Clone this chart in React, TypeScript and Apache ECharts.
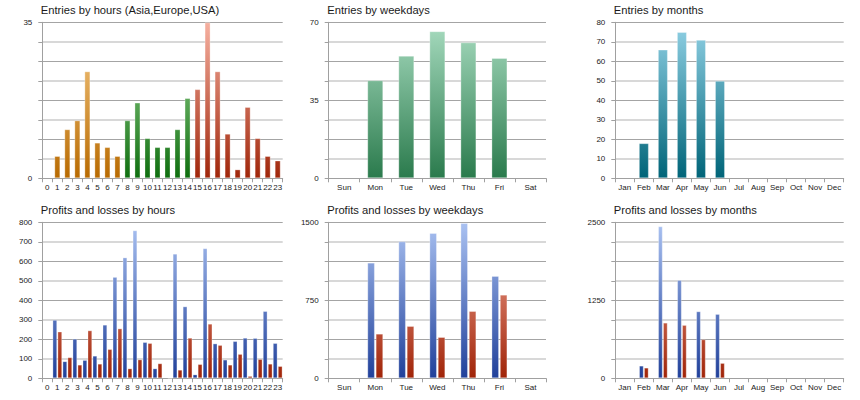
import { useEffect, useRef } from 'react';
import * as echarts from 'echarts';

const hours = ['0', '1', '2', '3', '4', '5', '6', '7', '8', '9', '10', '11', '12', '13', '14', '15', '16', '17', '18', '19', '20', '21', '22', '23'];
const weekdays = ['Sun', 'Mon', 'Tue', 'Wed', 'Thu', 'Fri', 'Sat'];
const months = ['Jan', 'Feb', 'Mar', 'Apr', 'May', 'Jun', 'Jul', 'Aug', 'Sep', 'Oct', 'Nov', 'Dec'];

// session of each hour: Asia 0-7, Europe 8-14, USA 15-23
const hourSession = [
  'asia', 'asia', 'asia', 'asia', 'asia', 'asia', 'asia', 'asia',
  'europe', 'europe', 'europe', 'europe', 'europe', 'europe', 'europe',
  'usa', 'usa', 'usa', 'usa', 'usa', 'usa', 'usa', 'usa', 'usa',
];

const entriesByHour = [0, 5, 11, 13, 24, 8, 7, 5, 13, 17, 9, 7, 7, 11, 18, 20, 35, 24, 10, 2, 16, 9, 5, 4];
const entriesByWeekday = [0, 44, 55, 66, 61, 54, 0];
const entriesByMonth = [0, 18, 66, 75, 71, 50, 0, 0, 0, 0, 0, 0];

const profitByHour = [0, 300, 88, 203, 94, 116, 275, 520, 620, 759, 186, 51, 0, 639, 369, 20, 667, 179, 96, 191, 208, 207, 345, 181];
const lossByHour = [0, 240, 108, 70, 246, 75, 150, 256, 51, 97, 181, 77, 2, 44, 208, 73, 280, 171, 70, 125, 12, 99, 75, 63];
const profitByWeekday = [0, 1112, 1317, 1397, 1494, 984, 0];
const lossByWeekday = [0, 429, 503, 397, 647, 804, 0];
const profitByMonth = [0, 203, 2436, 1576, 1074, 1031, 0, 0, 0, 0, 0, 0];
const lossByMonth = [0, 171, 892, 855, 625, 246, 0, 0, 0, 0, 0, 0];

// y axis max and the labels shown on it
const axisMax = [35, 70, 80, 800, 1500, 2500];
const axisLabels = [
  [0, 35],
  [0, 35, 70],
  [0, 10, 20, 30, 40, 50, 60, 70, 80],
  [0, 100, 200, 300, 400, 500, 600, 700, 800],
  [0, 750, 1500],
  [0, 1250, 2500],
];

const titles = [
  'Entries by hours (Asia,Europe,USA)',
  'Entries by weekdays',
  'Entries by months',
  'Profits and losses by hours',
  'Profits and losses by weekdays',
  'Profits and losses by months',
];

const cols = [
  { left: 42.3, width: 240.4 },
  { left: 328.7, width: 217.3 },
  { left: 615.3, width: 228.4 },
];
const rows = [22.3, 222.3];
const plotHeight = 156;

const palette: Record<string, [string, string]> = {
  asia: ['#fad08e', '#b86a00'],
  europe: ['#a8e0a0', '#0e6e0e'],
  usa: ['#f6b0a0', '#a0260a'],
  weekday: ['#a8dcc0', '#2a7a4c'],
  month: ['#92d2e6', '#006478'],
  profit: ['#aac2f2', '#20409a'],
  loss: ['#f8b0a0', '#a02408'],
};

function grad(key: string, top: number) {
  const [c0, c1] = palette[key];
  return {
    type: 'linear',
    x: 0,
    y: top,
    x2: 0,
    y2: top + plotHeight,
    global: true,
    colorStops: [
      { offset: 0, color: c0 },
      { offset: 1, color: c1 },
    ],
  };
}

const nz = (arr: number[]) => arr.map((v) => (v === 0 ? null : v));

export default function App() {
  const chartRef = useRef<HTMLDivElement>(null);

  useEffect(() => {
    if (!chartRef.current) return;
    const chart = echarts.init(chartRef.current, null, { renderer: 'svg' });

    const grids: any[] = [];
    const title: any[] = [];
    const xAxis: any[] = [];
    const yAxis: any[] = [];
    const categories = [hours, weekdays, months];

    for (let i = 0; i < 6; i++) {
      const c = cols[i % 3];
      const top = rows[Math.floor(i / 3)];
      grids.push({ left: c.left, top, width: c.width, height: plotHeight });
      title.push({
        text: titles[i],
        left: c.left - 1.5,
        top: top - 17.5,
        padding: 0,
        textStyle: { fontSize: 11.2, fontWeight: 'normal', color: '#1a1a1a', fontFamily: 'Liberation Sans' },
      });
      xAxis.push({
        gridIndex: i,
        type: 'category',
        data: categories[i % 3],
        axisLine: { lineStyle: { color: '#a0a0a0' } },
        axisTick: { show: true, length: 4, interval: 0, lineStyle: { color: '#a0a0a0' } },
        axisLabel: { fontSize: 8, interval: 0, margin: 5, color: '#222' },
      });
      const max = axisMax[i];
      const shown = axisLabels[i];
      // labelled axis
      yAxis.push({
        gridIndex: i,
        type: 'value',
        min: 0,
        max,
        interval: max / 8,
        axisLine: { show: true, lineStyle: { color: '#a0a0a0' } },
        axisTick: { show: true, length: 4, lineStyle: { color: '#a0a0a0' } },
        splitLine: { show: false },
        axisLabel: {
          fontSize: 8,
          margin: 10,
          color: '#222',
          formatter: (v: number) => (shown.includes(v) ? String(v) : ''),
        },
      });
      // grid lines: dark every quarter, light in between
      yAxis.push({
        gridIndex: i,
        type: 'value',
        min: 0,
        max,
        interval: max / 4,
        axisLine: { show: false },
        axisTick: { show: false },
        axisLabel: { show: false },
        splitLine: { show: true, lineStyle: { color: '#a4a4a4', width: 1 } },
        minorTick: { show: false, splitNumber: 2 },
        minorSplitLine: { show: true, lineStyle: { color: '#d8d8d8', width: 2 } },
      });
    }

    const border = { borderColor: 'rgba(255,255,255,0.3)', borderWidth: 1 };

    const series: any[] = [
      {
        type: 'bar',
        xAxisIndex: 0,
        yAxisIndex: 0,
        barWidth: 6,
        data: entriesByHour.map((v, h) => ({
          value: v === 0 ? null : v,
          itemStyle: { color: grad(hourSession[h], rows[0]), ...border },
        })),
      },
      {
        type: 'bar',
        xAxisIndex: 1,
        yAxisIndex: 2,
        barWidth: 16,
        data: nz(entriesByWeekday),
        itemStyle: { color: grad('weekday', rows[0]), ...border },
      },
      {
        type: 'bar',
        xAxisIndex: 2,
        yAxisIndex: 4,
        barWidth: 10,
        data: nz(entriesByMonth),
        itemStyle: { color: grad('month', rows[0]), ...border },
      },
      {
        type: 'bar',
        xAxisIndex: 3,
        yAxisIndex: 6,
        barWidth: 4.8,
        barGap: '4%',
        data: nz(profitByHour),
        itemStyle: { color: grad('profit', rows[1]), ...border },
      },
      {
        type: 'bar',
        xAxisIndex: 3,
        yAxisIndex: 6,
        barWidth: 4.8,
        barGap: '4%',
        data: nz(lossByHour),
        itemStyle: { color: grad('loss', rows[1]), ...border },
      },
      {
        type: 'bar',
        xAxisIndex: 4,
        yAxisIndex: 8,
        barWidth: 7.6,
        barGap: '10%',
        data: nz(profitByWeekday),
        itemStyle: { color: grad('profit', rows[1]), ...border },
      },
      {
        type: 'bar',
        xAxisIndex: 4,
        yAxisIndex: 8,
        barWidth: 7.6,
        barGap: '10%',
        data: nz(lossByWeekday),
        itemStyle: { color: grad('loss', rows[1]), ...border },
      },
      {
        type: 'bar',
        xAxisIndex: 5,
        yAxisIndex: 10,
        barWidth: 4.7,
        barGap: '5%',
        data: nz(profitByMonth),
        itemStyle: { color: grad('profit', rows[1]), ...border },
      },
      {
        type: 'bar',
        xAxisIndex: 5,
        yAxisIndex: 10,
        barWidth: 4.7,
        barGap: '5%',
        data: nz(lossByMonth),
        itemStyle: { color: grad('loss', rows[1]), ...border },
      },
    ];

    chart.setOption({
      animation: false,
      textStyle: { fontFamily: 'Liberation Sans' },
      title,
      grid: grids,
      xAxis,
      yAxis,
      series,
    });

    return () => {
      chart.dispose();
    };
  }, []);

  return (
    <div
      ref={chartRef}
      style={{ position: 'absolute', left: 0, top: 0, width: 860, height: 400, background: '#fff' }}
    />
  );
}
